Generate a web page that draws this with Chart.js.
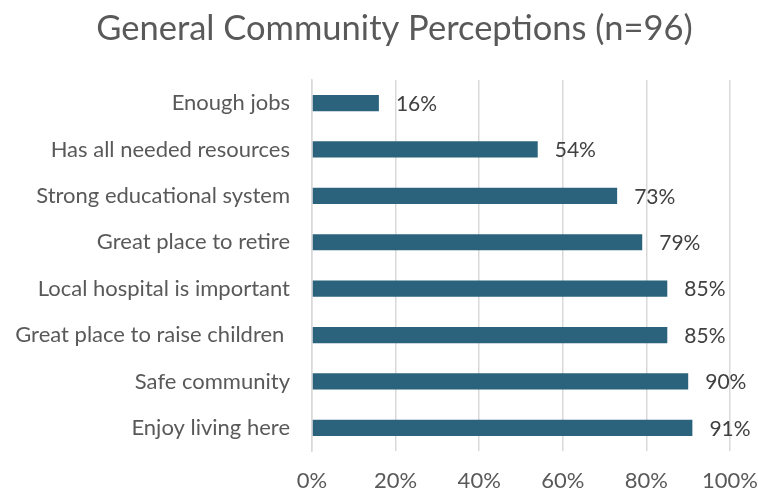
<!DOCTYPE html>
<html>
<head>
<meta charset="utf-8">
<script src="https://cdn.jsdelivr.net/npm/chart.js@4/dist/chart.umd.min.js"></script>
<style>
  html, body { margin: 0; padding: 0; background: #ffffff; }
  #wrap { width: 758px; height: 490px; }
</style>
</head>
<body>
<div id="wrap"><canvas id="c" width="758" height="490"></canvas></div>
<script>
const categories = [
  "Enough jobs",
  "Has all needed resources",
  "Strong educational system",
  "Great place to retire",
  "Local hospital is important",
  "Great place to raise children ",
  "Safe community",
  "Enjoy living here"
];
const percentValues = [16, 54, 73, 79, 85, 85, 90, 91];
const xTickValues = [0, 20, 40, 60, 80, 100];

const FONT = "Lato, 'Open Sans', 'Liberation Sans', sans-serif";
const TEXT = "#595959";

// Writes each bar's percentage just past its end
const valueLabels = {
  id: "valueLabels",
  afterDatasetsDraw(chart) {
    const ctx = chart.ctx;
    const meta = chart.getDatasetMeta(0);
    ctx.save();
    ctx.font = "21px " + FONT;
    ctx.fillStyle = "#404040";
    ctx.textAlign = "left";
    ctx.textBaseline = "middle";
    meta.data.forEach((bar, i) => {
      ctx.fillText(percentValues[i] + "%", bar.x + 17, bar.y + 1);
    });
    ctx.restore();
  }
};

// Centres the title a little right of the canvas middle
const titleSpan = {
  id: "titleSpan",
  afterLayout(chart) {
    if (chart.titleBlock) chart.titleBlock.left = 59;
  }
};

new Chart(document.getElementById("c"), {
  type: "bar",
  data: {
    labels: categories,
    datasets: [{
      data: percentValues,
      backgroundColor: "#2b627c",
      borderWidth: 0,
      categoryPercentage: 1,
      barPercentage: 0.35
    }]
  },
  options: {
    indexAxis: "y",
    responsive: false,
    animation: false,
    devicePixelRatio: 1,
    layout: { padding: { left: 0, right: 28, top: 0, bottom: 0 } },
    plugins: {
      legend: { display: false },
      tooltip: { enabled: false },
      title: {
        display: true,
        text: "General Community Perceptions (n=96)",
        color: TEXT,
        font: { family: FONT, size: 34.5, weight: "normal" },
        padding: { top: 8, bottom: 30.5 }
      }
    },
    scales: {
      x: {
        min: 0,
        max: 100,
        afterBuildTicks(scale) {
          scale.ticks = xTickValues.map(v => ({ value: v }));
        },
        afterFit(scale) {
          scale.height = 39;
          scale.paddingLeft = 0;
          scale.paddingRight = 0;
        },
        grid: { color: "#d9d9d9", lineWidth: 1.5, drawTicks: false },
        border: { display: false },
        ticks: {
          color: TEXT,
          font: { family: FONT, size: 22 },
          padding: 17,
          callback: v => v + "%"
        }
      },
      y: {
        grid: { display: false, drawTicks: false },
        border: { display: true, color: "#d9d9d9", width: 1.5 },
        ticks: {
          color: TEXT,
          font: { family: FONT, size: 22 },
          padding: 22
        },
        afterFit(scale) {
          scale.width = 312;
          scale.paddingTop = 0;
          scale.paddingBottom = 0;
        }
      }
    }
  },
  plugins: [valueLabels, titleSpan]
});
</script>
</body>
</html>
